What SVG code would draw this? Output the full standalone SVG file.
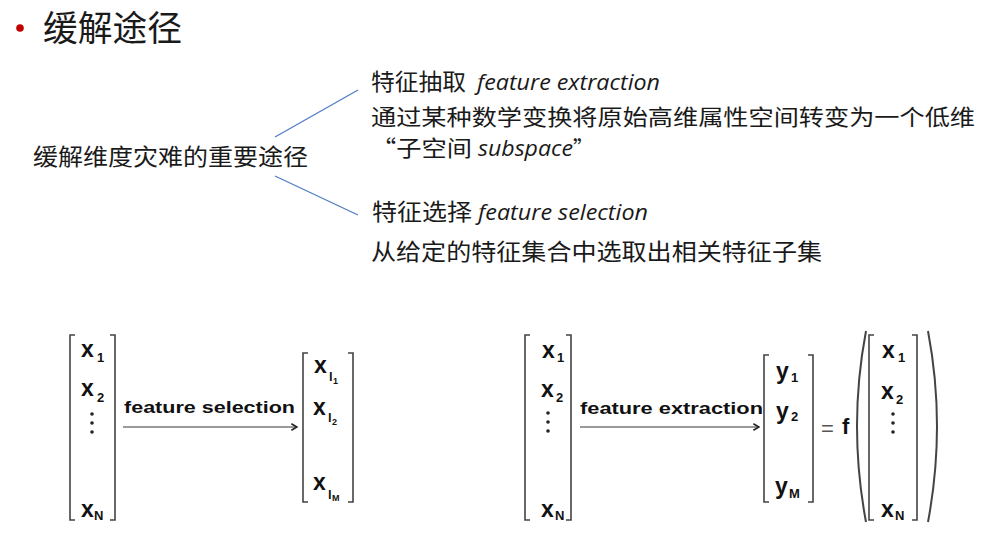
<svg xmlns="http://www.w3.org/2000/svg" width="983" height="542" viewBox="0 0 983 542">
<style>
.cjk{font-family:"Noto Sans CJK SC","Noto Sans",sans-serif;fill:#1a1a1a}
.it{font-family:"Open Sans","Liberation Sans",sans-serif;font-style:italic}
.m{font-family:"Liberation Sans",Arial,sans-serif;font-weight:bold;fill:#111}
.mv{font-size:23px}
.ms{font-size:13px}
.mss{font-size:9px}
.lbl{font-family:"Liberation Sans",Arial,sans-serif;font-weight:bold;font-size:17px;fill:#111}
.br{fill:none;stroke:#444;stroke-width:1.6}
.pa{fill:none;stroke:#444;stroke-width:2}
.conn{stroke:#4f7cc3;stroke-width:1.3;fill:none}
.arr{stroke:#9a9a9a;stroke-width:2;fill:none}
.dot{fill:#222}
</style>
<defs>
<marker id="chev" viewBox="0 0 10 10" refX="9" refY="5" markerWidth="8" markerHeight="8" markerUnits="userSpaceOnUse" orient="auto">
<path d="M2,1 L9,5 L2,9" fill="none" stroke="#222" stroke-width="2"/>
</marker>
</defs>
<rect width="983" height="542" fill="#fff"/>

<g id="title">
<circle cx="20" cy="28" r="3.8" fill="#c00000"/>
<text class="cjk" x="43" y="41" font-size="35" textLength="139" lengthAdjust="spacingAndGlyphs">缓解途径</text>
</g>

<g id="root">
<text class="cjk" x="33" y="165" font-size="23" textLength="275" lengthAdjust="spacingAndGlyphs">缓解维度灾难的重要途径</text>
</g>

<g id="extraction">
<text class="cjk" x="371" y="90" font-size="23"><tspan textLength="95" lengthAdjust="spacingAndGlyphs">特征抽取</tspan><tspan class="it" x="477" font-size="22" textLength="183" lengthAdjust="spacingAndGlyphs">feature extraction</tspan></text>
<text class="cjk" x="371" y="125" font-size="22" textLength="604" lengthAdjust="spacingAndGlyphs">通过某种数学变换将原始高维属性空间转变为一个低维</text>
<text class="cjk" x="371" y="156" font-size="21"><tspan font-size="22" textLength="101" lengthAdjust="spacingAndGlyphs">“子空间</tspan><tspan class="it" x="478" textLength="95" lengthAdjust="spacingAndGlyphs">subspace</tspan><tspan x="573">”</tspan></text>
</g>

<g id="selection">
<text class="cjk" x="372" y="220" font-size="23"><tspan textLength="100" lengthAdjust="spacingAndGlyphs">特征选择</tspan><tspan class="it" x="478" font-size="22" textLength="170" lengthAdjust="spacingAndGlyphs">feature selection</tspan></text>
<text class="cjk" x="371" y="260" font-size="23" textLength="451" lengthAdjust="spacingAndGlyphs">从给定的特征集合中选取出相关特征子集</text>
</g>

<g id="connectors">
<line class="conn" x1="275" y1="137" x2="358" y2="90"/>
<line class="conn" x1="275" y1="176" x2="358" y2="215"/>
<line class="arr" x1="123" y1="427" x2="297" y2="427" marker-end="url(#chev)"/>
<line class="arr" x1="580" y1="427" x2="759" y2="427" marker-end="url(#chev)"/>
</g>

<g id="label-selection">
<text class="lbl" x="124" y="413" textLength="171" lengthAdjust="spacingAndGlyphs">feature selection</text>
</g>
<g id="label-extraction">
<text class="lbl" x="580" y="414" textLength="183" lengthAdjust="spacingAndGlyphs">feature extraction</text>
</g>

<g id="vec-x-left">
<path class="br" d="M75,335 H70 V520 H75"/>
<path class="br" d="M110,335 H115 V520 H110"/>
<text class="m mv" x="81" y="357">x</text><text class="m ms" x="97" y="362">1</text>
<text class="m mv" x="81" y="396">x</text><text class="m ms" x="97" y="402">2</text>
<circle class="dot" cx="92" cy="414" r="1.8"/><circle class="dot" cx="92" cy="423" r="1.8"/><circle class="dot" cx="92" cy="432" r="1.8"/>
<text class="m mv" x="81" y="517">x</text><text class="m ms" x="94" y="520">N</text>
</g>

<g id="vec-x-selected">
<path class="br" d="M308,353 H303 V502 H308"/>
<path class="br" d="M348,353 H353 V502 H348"/>
<text class="m mv" x="314" y="373">x</text><text class="m ms" x="329" y="381" font-weight="normal">l</text><text class="m mss" x="333" y="384" font-weight="normal">1</text>
<text class="m mv" x="313" y="415">x</text><text class="m ms" x="328" y="422" font-weight="normal">l</text><text class="m mss" x="332" y="425" font-weight="normal">2</text>
<text class="m mv" x="313" y="490">x</text><text class="m ms" x="328" y="499" font-weight="normal">l</text><text class="m mss" x="332" y="501" font-weight="normal">M</text>
</g>

<g id="vec-x-right">
<path class="br" d="M530,335 H525 V520 H530"/>
<path class="br" d="M566,335 H571 V520 H566"/>
<text class="m mv" x="542" y="358">x</text><text class="m ms" x="557" y="362">1</text>
<text class="m mv" x="541" y="397">x</text><text class="m ms" x="556" y="402">2</text>
<circle class="dot" cx="548" cy="413" r="1.8"/><circle class="dot" cx="548" cy="422" r="1.8"/><circle class="dot" cx="548" cy="431" r="1.8"/>
<text class="m mv" x="541" y="517">x</text><text class="m ms" x="555" y="520">N</text>
</g>

<g id="vec-y">
<path class="br" d="M769,355 H764 V502 H769"/>
<path class="br" d="M808,355 H813 V502 H808"/>
<text class="m mv" x="776" y="379">y</text><text class="m ms" x="791" y="382">1</text>
<text class="m mv" x="776" y="419">y</text><text class="m ms" x="791" y="421">2</text>
<text class="m mv" x="775" y="494">y</text><text class="m ms" x="789" y="498">M</text>
</g>

<g id="func">
<text x="821" y="436" font-family="Liberation Sans,Arial,sans-serif" font-size="22" fill="#555">=</text>
<text class="m" x="842" y="434" font-size="22">f</text>
<path class="pa" d="M866,331 Q848,426 866,522"/>
<path class="pa" d="M928,331 Q946,426 928,522"/>
<path class="br" d="M874,335 H869 V520 H874"/>
<path class="br" d="M912,335 H917 V520 H912"/>
<text class="m mv" x="882" y="358">x</text><text class="m ms" x="898" y="362">1</text>
<text class="m mv" x="881" y="399">x</text><text class="m ms" x="896" y="404">2</text>
<circle class="dot" cx="893" cy="414" r="1.8"/><circle class="dot" cx="893" cy="423" r="1.8"/><circle class="dot" cx="893" cy="432" r="1.8"/>
<text class="m mv" x="881" y="517">x</text><text class="m ms" x="895" y="520">N</text>
</g>
</svg>
